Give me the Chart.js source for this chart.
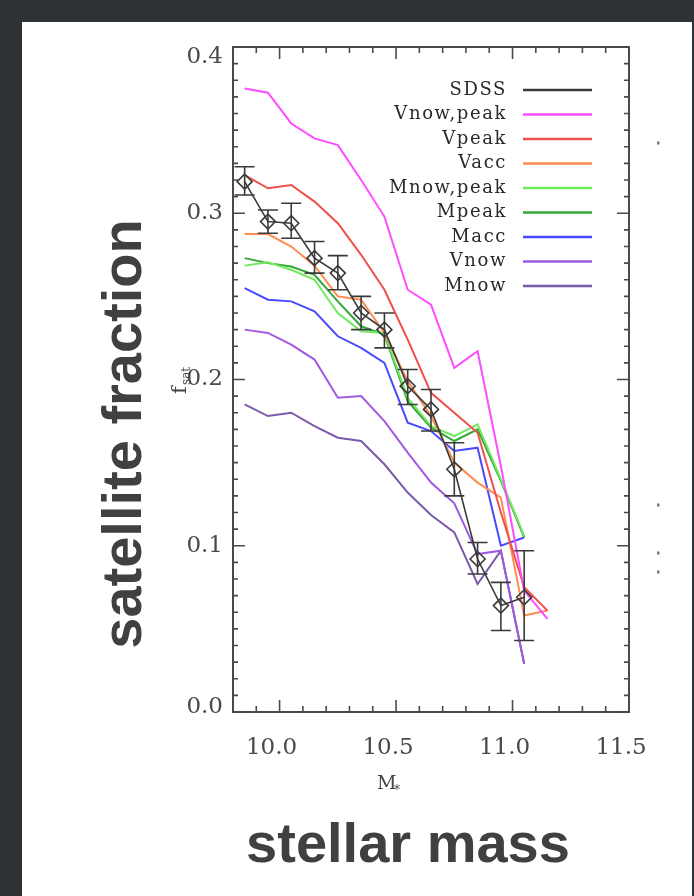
<!DOCTYPE html>
<html><head><meta charset="utf-8">
<script src="https://cdn.jsdelivr.net/npm/chart.js@4/dist/chart.umd.min.js"></script>
<style>html,body{margin:0;padding:0;background:#2e3234;}canvas{display:block}</style>
</head><body>
<canvas id="c" width="694" height="896"></canvas>
<script>
// stellar-mass bin centres (log M*)
const massBins = [9.85, 9.95, 10.05, 10.15, 10.25, 10.35, 10.45, 10.55, 10.65, 10.75, 10.85, 10.95, 11.05, 11.15];
// SDSS measurement with error range
const sdss     = [0.319, 0.295, 0.294, 0.273, 0.264, 0.240, 0.230, 0.196, 0.182, 0.146, 0.092, 0.064, 0.069, null];
const sdssLow  = [0.311, 0.288, 0.285, 0.264, 0.254, 0.230, 0.219, 0.185, 0.169, 0.130, 0.083, 0.049, 0.043, null];
const sdssHigh = [0.328, 0.302, 0.306, 0.283, 0.2745, 0.250, 0.240, 0.206, 0.194, 0.162, 0.102, 0.078, 0.097, null];
// model predictions
const vnowPeak = [0.375, 0.3725, 0.354, 0.345, 0.341, 0.320, 0.298, 0.254, 0.245, 0.207, 0.217, 0.148, 0.073, 0.056];
const vpeak    = [0.323, 0.315, 0.317, 0.307, 0.294, 0.275, 0.254, 0.224, 0.192, 0.180, 0.168, 0.120, 0.075, 0.061];
const vacc     = [0.2875, 0.2875, 0.280, 0.2685, 0.250, 0.248, 0.228, 0.199, 0.178, 0.150, 0.138, 0.129, 0.058, 0.061];
const mnowPeak = [0.2685, 0.2705, 0.266, 0.260, 0.240, 0.229, 0.228, 0.189, 0.172, 0.166, 0.173, 0.140, 0.106, null];
const mpeak    = [0.273, 0.270, 0.268, 0.263, 0.247, 0.232, 0.227, 0.187, 0.171, 0.163, 0.170, 0.139, 0.105, null];
const macc     = [0.255, 0.248, 0.247, 0.241, 0.226, 0.219, 0.210, 0.174, 0.169, 0.157, 0.159, 0.100, 0.105, null];
const vnow     = [0.230, 0.228, 0.221, 0.212, 0.189, 0.190, 0.175, 0.156, 0.138, 0.1255, 0.095, 0.097, 0.029, null];
const mnow     = [0.185, 0.178, 0.180, 0.172, 0.165, 0.163, 0.149, 0.132, 0.1185, 0.108, 0.077, 0.097, 0.029, null];
// axis ticks
const xTicks = [10.0, 10.5, 11.0, 11.5];
const yTicks = [0.0, 0.1, 0.2, 0.3, 0.4];
const seriesNames = ['SDSS','Vnow,peak','Vpeak','Vacc','Mnow,peak','Mpeak','Macc','Vnow','Mnow'];
const seriesColors = ['#3a3a3a','#ff4cff','#f0504a','#ff8c50','#6fea5c','#35a63a','#4a4aff','#a05ae0','#7b5aa8'];
const seriesValues = [sdss, vnowPeak, vpeak, vacc, mnowPeak, mpeak, macc, vnow, mnow];

function pts(arr){ return massBins.map((x,i)=>({x:x, y:arr[i]})).filter(p=>p.y!==null); }

const datasets = seriesValues.map((arr,i)=>({
  label: seriesNames[i],
  data: pts(arr),
  borderColor: seriesColors[i],
  backgroundColor: 'rgba(0,0,0,0)',
  borderWidth: i===0 ? 1.6 : 2,
  pointRadius: i===0 ? 7.5 : 0,
  pointStyle: 'rectRot',
  pointBorderWidth: 1.6,
  pointBorderColor: seriesColors[i],
  pointBackgroundColor: 'rgba(0,0,0,0)',
  tension: 0,
  spanGaps: true
}));

const SERIF = '"DejaVu Serif", "Liberation Serif", serif';

const decor = {
  id: 'decor',
  beforeDraw(chart){
    const ctx = chart.ctx;
    ctx.save();
    ctx.fillStyle = '#2e3234';
    ctx.fillRect(0,0,694,896);
    ctx.fillStyle = '#ffffff';
    ctx.fillRect(22,22,670,874);
    ctx.restore();
  },
  afterDatasetsDraw(chart){
    const ctx = chart.ctx, xs = chart.scales.x, ys = chart.scales.y, a = chart.chartArea;
    ctx.save();
    // error bars
    ctx.strokeStyle = '#3a3a3a'; ctx.lineWidth = 1.6;
    massBins.forEach((m,i)=>{
      if (sdssLow[i]===null) return;
      const x = xs.getPixelForValue(m), y1 = ys.getPixelForValue(sdssLow[i]), y2 = ys.getPixelForValue(sdssHigh[i]);
      ctx.beginPath();
      ctx.moveTo(x,y1); ctx.lineTo(x,y2);
      ctx.moveTo(x-10,y1); ctx.lineTo(x+10,y1);
      ctx.moveTo(x-10,y2); ctx.lineTo(x+10,y2);
      ctx.stroke();
    });
    // frame
    ctx.strokeStyle = '#4a4a4a'; ctx.lineWidth = 2;
    ctx.strokeRect(a.left, a.top, a.right-a.left, a.bottom-a.top);
    // ticks
    ctx.lineWidth = 1.6;
    ctx.beginPath();
    for (let k=98; k<=115; k++){
      const v = k/10, x = xs.getPixelForValue(v);
      const len = (k%5===0) ? 12 : 6;
      ctx.moveTo(x,a.bottom); ctx.lineTo(x,a.bottom-len);
      ctx.moveTo(x,a.top); ctx.lineTo(x,a.top+len);
    }
    for (let k=0; k<=40; k++){
      const v = k/100, y = ys.getPixelForValue(v);
      const len = (k%10===0) ? 12 : 5;
      ctx.moveTo(a.left,y); ctx.lineTo(a.left+len,y);
      ctx.moveTo(a.right,y); ctx.lineTo(a.right-len,y);
    }
    ctx.stroke();
    // y tick labels (end labels pulled inside the frame as in the original)
    ctx.fillStyle = '#4a4a4a';
    ctx.font = '23px ' + SERIF;
    ctx.textAlign = 'right'; ctx.textBaseline = 'middle';
    yTicks.forEach(v=>{
      let y = ys.getPixelForValue(v);
      if (v === ys.max) y += 10;
      if (v === ys.min) y -= 5;
      ctx.fillText(v.toFixed(1), a.left - 10, y);
    });
    // legend
    ctx.font = '18px ' + SERIF;
    try { ctx.letterSpacing = '1.6px'; } catch(e){}
    ctx.textAlign = 'right'; ctx.textBaseline = 'middle';
    chart.data.datasets.forEach((d,i)=>{
      const y = 90 + i*24.5;
      ctx.fillStyle = '#2a2a2a';
      ctx.fillText(d.label, 507, y);
      ctx.strokeStyle = d.borderColor; ctx.lineWidth = 2.4;
      ctx.beginPath(); ctx.moveTo(523,y); ctx.lineTo(592,y); ctx.stroke();
    });
    try { ctx.letterSpacing = '0px'; } catch(e){}
    // axis titles
    ctx.fillStyle = '#404040';
    ctx.font = 'bold 56px "Liberation Sans"';
    ctx.textAlign = 'center'; ctx.textBaseline = 'middle';
    ctx.save(); ctx.translate(126, 434); ctx.rotate(-Math.PI/2);
    ctx.fillText('satellite fraction', 0, 0); ctx.restore();
    ctx.fillText('stellar mass', 408, 847);
    // small serif labels
    ctx.fillStyle = '#444';
    ctx.save(); ctx.translate(181, 380); ctx.rotate(-Math.PI/2);
    ctx.font = '21px ' + SERIF; ctx.textAlign = 'left'; ctx.textBaseline = 'middle';
    ctx.fillText('f', -14, 0);
    ctx.font = '12px ' + SERIF;
    ctx.fillText('sat', -5, 6);
    ctx.restore();
    ctx.font = '19px ' + SERIF; ctx.textAlign = 'left'; ctx.textBaseline = 'middle';
    ctx.fillText('M', 377, 784);
    ctx.font = '12px ' + SERIF;
    ctx.fillText('*', 394, 791);
    // specks at right
    ctx.fillStyle = '#777';
    [[658,143],[658,505],[658,553],[658,572]].forEach(p=>{ctx.fillRect(p[0]-1,p[1]-1.5,2.5,3);});
    ctx.restore();
  }
};

new Chart(document.getElementById('c'), {
  type: 'line',
  data: { datasets: datasets },
  plugins: [decor],
  options: {
    responsive: false,
    animation: false,
    devicePixelRatio: 1,
    layout: { padding: { top: 47, right: 65, left: 0, bottom: 0 } },
    plugins: { legend: { display: false }, tooltip: { enabled: false } },
    scales: {
      x: {
        type: 'linear', min: 9.8, max: 11.5,
        afterBuildTicks: s => { s.ticks = xTicks.map(v=>({value:v})); },
        afterFit: s => { s.height = 184; },
        grid: { display: false, drawTicks: false },
        border: { display: false },
        ticks: { padding: 22, labelOffset: -8, color: '#4a4a4a', font: { family: SERIF, size: 23 }, callback: v => Number(v).toFixed(1), maxRotation: 0 }
      },
      y: {
        type: 'linear', min: 0, max: 0.4,
        afterBuildTicks: s => { s.ticks = yTicks.map(v=>({value:v})); },
        afterFit: s => { s.width = 233; },
        grid: { display: false, drawTicks: false },
        border: { display: false },
        ticks: { display: false }
      }
    }
  }
});
</script>
</body></html>
